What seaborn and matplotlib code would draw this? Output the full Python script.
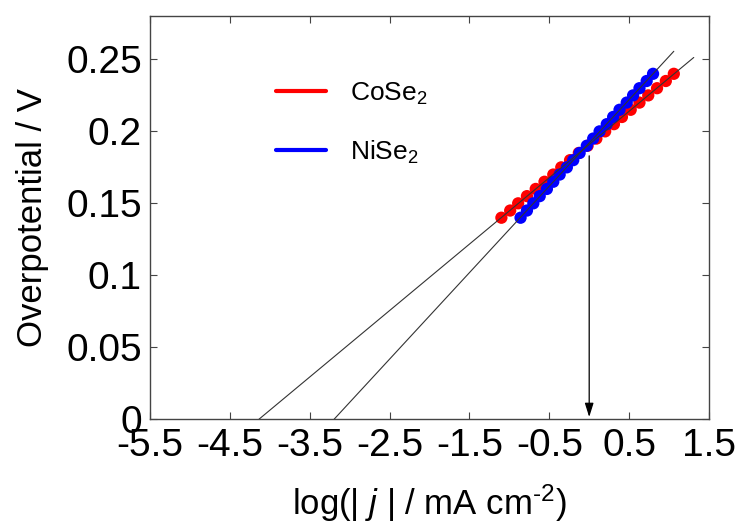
import numpy as np
import pandas as pd
import matplotlib
matplotlib.use('Agg')
import matplotlib.pyplot as plt
from matplotlib.lines import Line2D
import seaborn as sns

# --- Tafel data ---
eta = [0.140, 0.145, 0.150, 0.155, 0.160, 0.165, 0.170, 0.175, 0.180, 0.185, 0.190,
       0.195, 0.200, 0.205, 0.210, 0.215, 0.220, 0.225, 0.230, 0.235, 0.240]
log_j_cose2 = [-1.10, -0.99, -0.89, -0.78, -0.67, -0.56, -0.45, -0.35, -0.24, -0.13, -0.02,
               0.09, 0.20, 0.31, 0.41, 0.52, 0.63, 0.74, 0.85, 0.96, 1.06]
log_j_nise2 = [-0.86, -0.78, -0.70, -0.62, -0.53, -0.45, -0.37, -0.28, -0.20, -0.12, -0.03,
               0.05, 0.13, 0.22, 0.30, 0.38, 0.47, 0.55, 0.63, 0.72, 0.80]
samples = ['CoSe$_2$', 'NiSe$_2$']
colors = ['#ff0000', '#0000ff']
fit_end = [1.31, 1.06]   # where the extrapolated fit lines stop

x_ticks = [-5.5, -4.5, -3.5, -2.5, -1.5, -0.5, 0.5, 1.5]
x_tick_labels = ['-5.5', '-4.5', '-3.5', '-2.5', '-1.5', '-0.5', '0.5', '1.5']
y_ticks = [0, 0.05, 0.1, 0.15, 0.2, 0.25]
y_tick_labels = ['0', '0.05', '0.1', '0.15', '0.2', '0.25']

arrow_x = 0.0
arrow_top = 0.183

df = pd.DataFrame({
    'log_j': log_j_cose2 + log_j_nise2,
    'eta': eta + eta,
    'sample': [samples[0]] * len(eta) + [samples[1]] * len(eta),
})

sns.set_theme(style='white')
plt.rcParams['font.family'] = ['Liberation Sans', 'DejaVu Sans']
plt.rcParams['mathtext.fontset'] = 'custom'
plt.rcParams['mathtext.rm'] = 'Liberation Sans'
plt.rcParams['mathtext.it'] = 'Liberation Sans:italic'
plt.rcParams['axes.unicode_minus'] = False
plt.rcParams['text.color'] = 'black'
plt.rcParams['axes.labelcolor'] = 'black'

fig = plt.figure(figsize=(7.4, 5.24), dpi=100)
ax = fig.add_axes([0.203, 0.200, 0.755, 0.769])

sns.scatterplot(data=df, x='log_j', y='eta', hue='sample', palette=colors,
                s=78, linewidth=0, ax=ax, legend=False, zorder=2)

# linear Tafel fits, extrapolated down to zero overpotential
for s, xe in zip(samples, fit_end):
    sub = df[df['sample'] == s]
    slope, icpt = np.polyfit(sub['log_j'], sub['eta'], 1)
    x0 = -icpt / slope
    xs = np.array([x0, xe])
    sns.lineplot(x=xs, y=slope * xs + icpt, color='#333333', lw=0.8, ax=ax, zorder=3)

ax.annotate('', xy=(arrow_x, 0.0015), xytext=(arrow_x, arrow_top),
            arrowprops=dict(arrowstyle='-|>,head_length=0.7,head_width=0.22',
                            color='black', lw=0.9, shrinkA=0, shrinkB=0))

ax.set_xlim(-5.5, 1.5)
ax.set_ylim(0, 0.28)
ax.set_xticks(x_ticks)
ax.set_xticklabels(x_tick_labels)
ax.set_yticks(y_ticks)
ax.set_yticklabels(y_tick_labels)
ax.tick_params(direction='in', length=5, width=0.8, labelsize=28, pad=6,
               bottom=True, left=True, top=True, right=True,
               colors='#444444', labelcolor='black')
for sp in ax.spines.values():
    sp.set_color('#444444')
    sp.set_linewidth(1.0)

ax.set_xlabel('log(| $j$ | / mA cm$^{\\text{-2}}$)', fontsize=25, labelpad=14)
ax.set_ylabel('Overpotential / V', fontsize=25, labelpad=12)

handles = [Line2D([], [], color=c, lw=3) for c in colors]
ax.legend(handles, samples, loc='upper left', bbox_to_anchor=(0.225, 0.84),
          frameon=False, fontsize=19, handlelength=1.9, handletextpad=0.9,
          labelspacing=1.2, borderpad=0, borderaxespad=0)

fig.savefig('out.png', dpi=100)
